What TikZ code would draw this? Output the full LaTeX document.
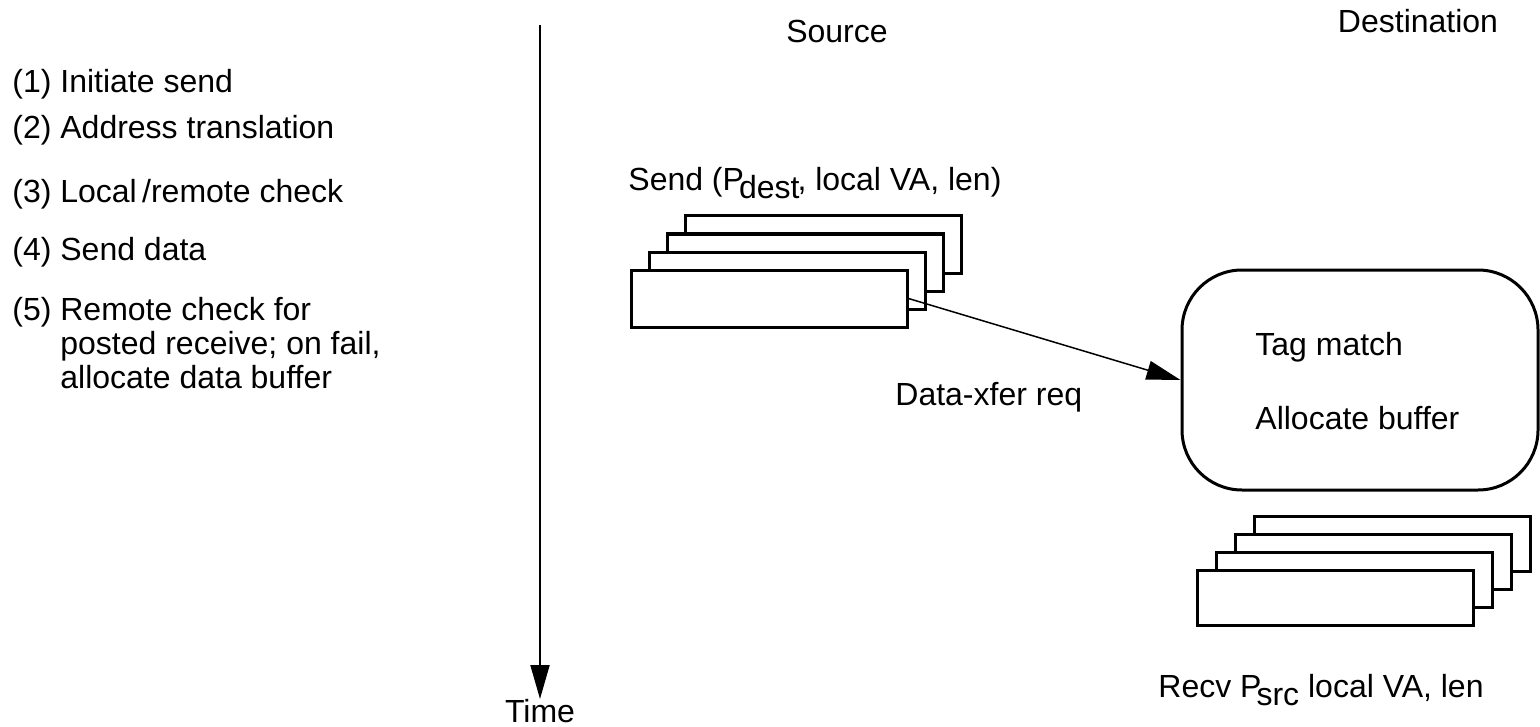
\documentclass[tikz,border=0pt]{standalone}
\usepackage{fontspec}
\setmainfont{Liberation Sans}
\usetikzlibrary{arrows.meta}

\begin{document}
\begin{tikzpicture}[x=0.5pt,y=-0.5pt,
  lbl/.style={inner sep=0pt, font=\fontsize{16}{17}\selectfont},
  stackbox/.style={draw, line width=1.5pt, fill=white, inner sep=0pt,
    minimum width=138pt, minimum height=28.5pt},
  tagbox/.style={draw, line width=1.5pt, rounded corners=30pt, inner sep=0pt,
    minimum width=178pt, minimum height=110pt},
  tip/.style={-{Triangle[length=17pt,width=9.5pt]}}
]
% canvas
\path[use as bounding box, fill=white] (0,0) rectangle (1540,727);

% step list
\node[lbl, anchor=west] (s1) at (12,84)  {(1) Initiate send};
\node[lbl, anchor=west] (s2) at (12,130) {(2) Address translation};
\node[lbl, anchor=west] (s3) at (12,194) {(3) Local\,/remote check};
\node[lbl, anchor=west] (s4) at (12,252) {(4) Send data};
\node[lbl, anchor=north west] (s5) at (12,296)
  {\begin{tabular}{@{}l@{ }l@{}}(5)&Remote check for\\ &posted receive; on fail,\\ &allocate data buffer\end{tabular}};

% time axis
\coordinate (ttop) at (540,25);
\node[lbl, anchor=north] (time) at (540,699) {Time};
\draw[line width=1pt, tip] (ttop) -- (time.north);

% column headings
\node[lbl] (src) at (837,31) {Source};
\node[lbl] (dst) at (1418,21) {Destination};

% send descriptor stack
\node[lbl, anchor=west] (sendlbl) at (628,183)
  {Send (P\kern-2.5pt\raisebox{-0.45ex}{dest}\kern-1pt, local VA, len)};
\node[stackbox] (sb4) at (823,244.5) {};
\node[stackbox] (sb3) at (805,262.5) {};
\node[stackbox] (sb2) at (787,280.5) {};
\node[stackbox] (sb1) at (769,298.5) {};

% tag matching at the destination
\node[tagbox] (tm) at (1360,380) {};
\node[lbl, anchor=west] (tag) at (1255,347) {Tag match};
\node[lbl, anchor=west] (alloc) at (1255,418) {Allocate buffer};

% data transfer request
\draw[line width=0.75pt, tip] (sb1.east) -- (tm.west);
\node[lbl, anchor=west] (xfer) at (895,397) {Data-xfer req};

% receive descriptor stack
\node[stackbox, minimum height=27.5pt] (rb4) at (1392,543.5) {};
\node[stackbox, minimum height=27.5pt] (rb3) at (1373,561.5) {};
\node[stackbox, minimum height=27.5pt] (rb2) at (1354,579.5) {};
\node[stackbox, minimum height=27.5pt] (rb1) at (1335,597.5) {};
\node[lbl, anchor=west] (recvlbl) at (1158,690)
  {Recv P\kern-2.5pt\raisebox{-0.45ex}{src}{} local VA, len};
\end{tikzpicture}
\end{document}
